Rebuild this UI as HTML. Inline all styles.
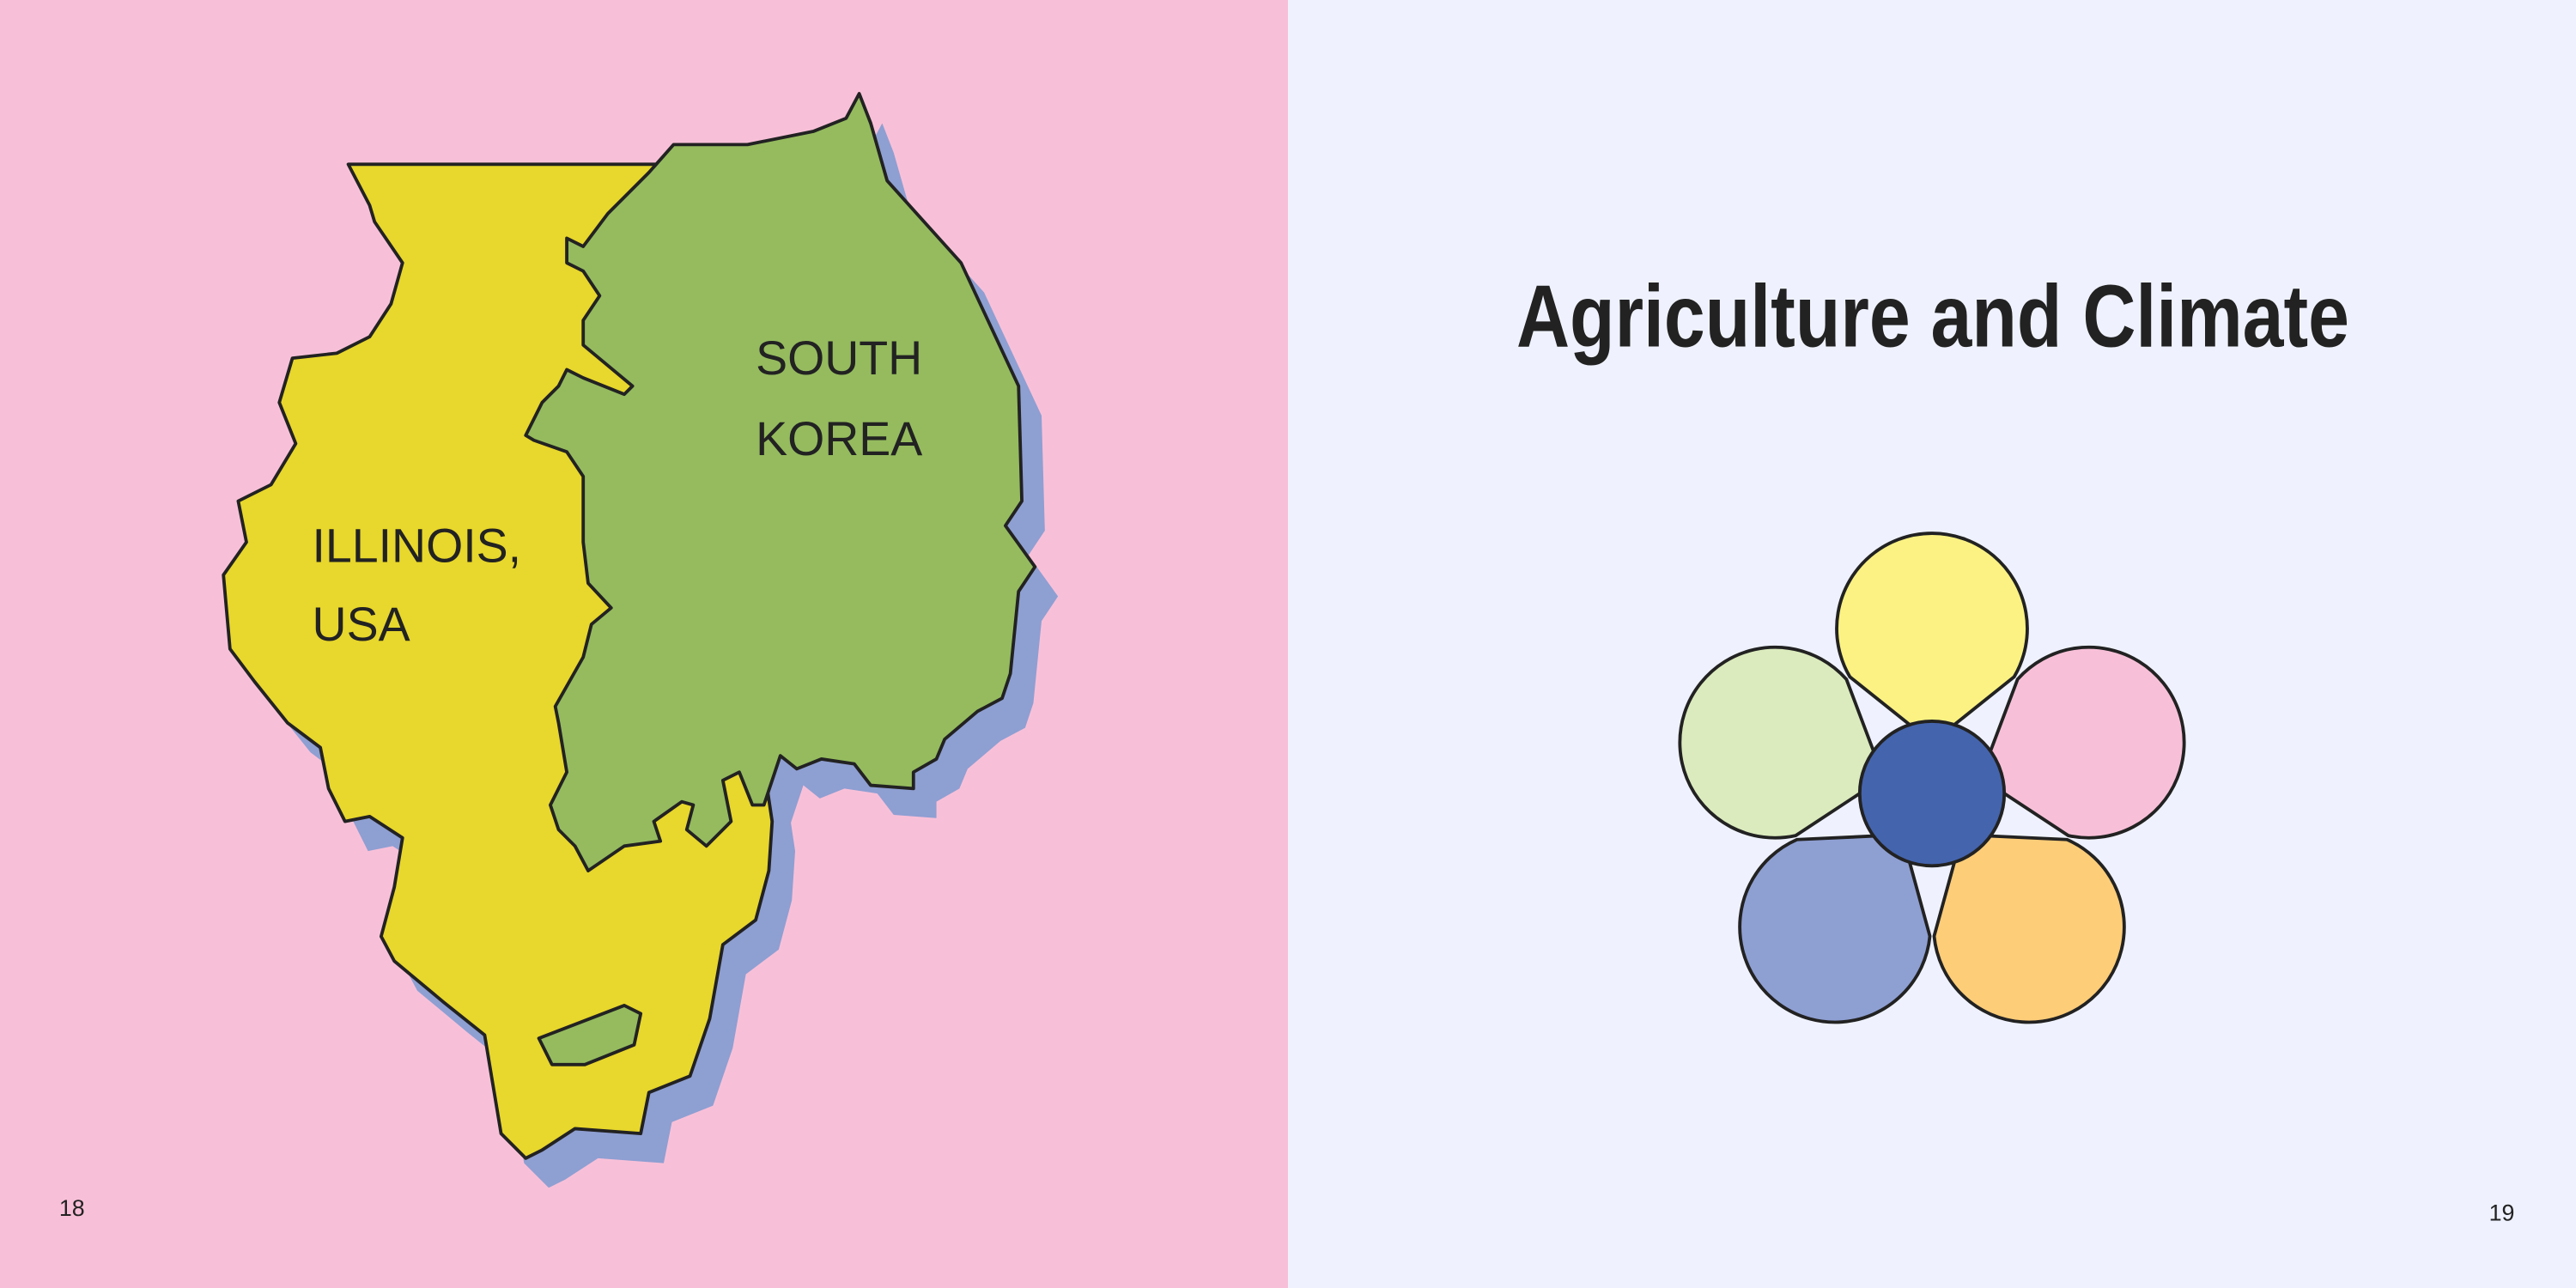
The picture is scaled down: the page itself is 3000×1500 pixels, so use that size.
<!DOCTYPE html>
<html><head><meta charset="utf-8"><style>html,body{margin:0;padding:0;width:3000px;height:1500px;overflow:hidden}svg{display:block}</style></head>
<body>
<svg width="3000" height="1500" viewBox="0 0 1568 784" xmlns="http://www.w3.org/2000/svg">
<rect x="0" y="0" width="784" height="784" fill="#f8c0d8"/>
<rect x="784" y="0" width="784" height="784" fill="#eff2fe"/>
<defs>
<polygon id="yl" points="212,100 410,100 440,300 470,500 468,530 460,560 440,575 432,620 420,655 395,665 390,690 350,687 330,700 320,705 305,690 300,660 295,630 270,610 240,585 232,570 240,540 245,510 225,497 210,500 200,480 195,455 175,440 155,415 140,395 136,350 150,330 145,305 165,295 180,270 170,245 178,218 205,215 225,205 238,185 245,160 228,135 225,125"/>
<polygon id="gr" points="410,88 455,88 495,80 515,72 523,57 530,75 540,110 585,160 620,235 622,305 612,320 630,345 620,360 615,410 610,425 595,433 575,450 570,462 556,470 556,480 530,478 520,465 500,462 485,468 475,460 465,490 458,490 450,470 440,475 445,500 430,515 418,505 422,490 415,488 398,500 402,512 380,515 358,530 350,515 340,505 335,490 345,470 340,440 338,430 355,400 360,380 372,370 358,355 355,330 355,290 345,275 325,268 320,265 330,245 340,235 345,225 355,230 380,240 385,235 355,210 355,195 365,180 355,165 345,160 345,145 355,150 370,130 380,120 395,105"/>
</defs>
<g transform="translate(14,18)" fill="#8e9fd2">
<use href="#yl"/><use href="#gr"/>
</g>
<use href="#yl" fill="#e8d72c" stroke="#222" stroke-width="2" stroke-linejoin="round"/>
<use href="#gr" fill="#95bb5e" stroke="#222" stroke-width="2" stroke-linejoin="round"/>
<polygon points="328,632 380,612 390,617 386,636 356,648 336,648" fill="#95bb5e" stroke="#222" stroke-width="2" stroke-linejoin="round"/>
<g font-family="Liberation Sans, sans-serif" fill="#222" font-size="29">
<text x="460" y="228">SOUTH</text>
<text x="460" y="277">KOREA</text>
<text x="190" y="342">ILLINOIS,</text>
<text x="190" y="390">USA</text>
<text x="36" y="740" font-size="14">18</text>
<text x="1515" y="743" font-size="14">19</text>
<text x="923" y="211" font-size="54" font-weight="bold" textLength="507" lengthAdjust="spacingAndGlyphs">Agriculture and Climate</text>
</g>
<g stroke="#222" stroke-width="2" stroke-linejoin="round">
<g transform="translate(1176,483)">
<g transform="rotate(0)"><path d="M0,-35 L-50,-75 A58,58 0 1 1 50,-75 Z" transform="translate(0,4)" fill="#fbf283"/></g>
<g transform="rotate(72)"><path d="M0,-35 L-50,-75 A58,58 0 1 1 50,-75 Z" transform="translate(0,4)" fill="#f8c0d8"/></g>
<g transform="rotate(144)"><path d="M0,-35 L-50,-75 A58,58 0 1 1 50,-75 Z" transform="translate(0,4)" fill="#fecd78"/></g>
<g transform="rotate(216)"><path d="M0,-35 L-50,-75 A58,58 0 1 1 50,-75 Z" transform="translate(0,4)" fill="#8e9fd2"/></g>
<g transform="rotate(288)"><path d="M0,-35 L-50,-75 A58,58 0 1 1 50,-75 Z" transform="translate(0,4)" fill="#dbebbd"/></g>
<circle cx="0" cy="0" r="44" fill="#4464ad"/>
</g>
</g>
</svg>
</body></html>
